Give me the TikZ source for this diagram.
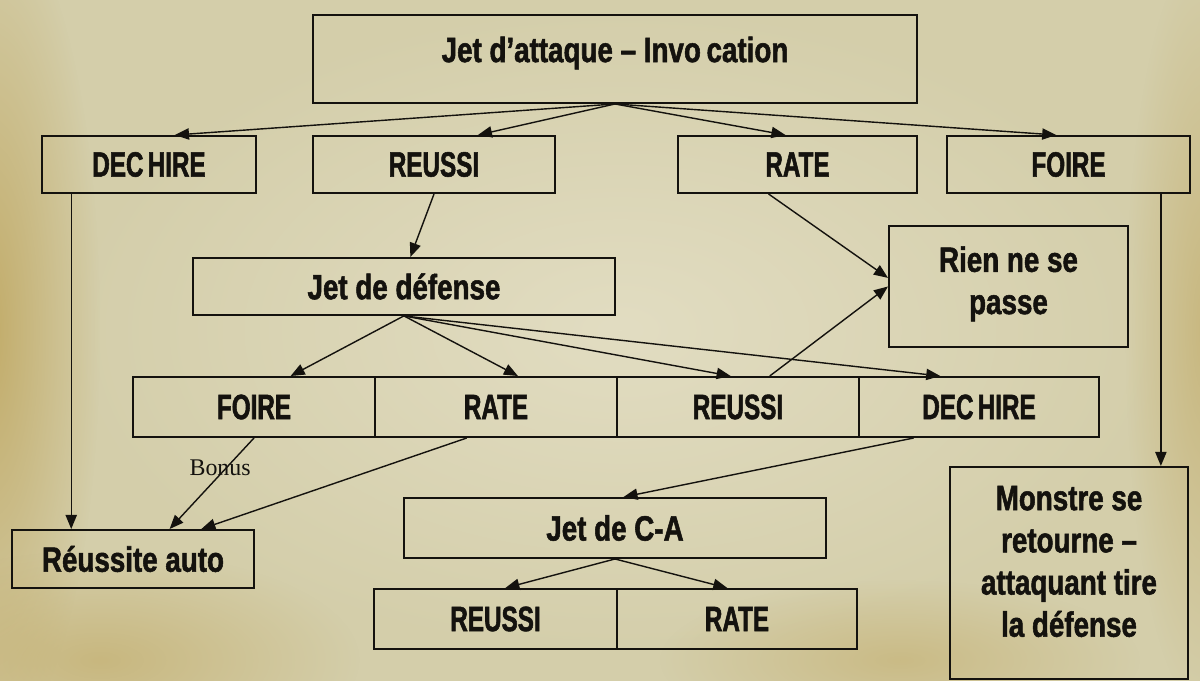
\documentclass[tikz,border=0pt]{standalone}
\usepackage{fontspec}
\newfontfamily\capsfont[FakeStretch=0.69, BoldFeatures={FakeBold=1.5}]{Liberation Sans}
\newfontfamily\wordfont[FakeStretch=0.79, BoldFeatures={FakeBold=1.5}]{Liberation Sans}
\newfontfamily\notefont{Liberation Serif}
\usetikzlibrary{arrows.meta,calc,fadings}

\definecolor{paper}{RGB}{212,206,170}
\definecolor{paperlight}{RGB}{226,221,194}
\definecolor{ochre}{RGB}{192,168,98}
\definecolor{ink}{RGB}{20,18,14}

\tikzfading[name=softblob, inner color=transparent!0, outer color=transparent!100]

% lift a label inside its box without changing the box size
\newcommand\liftlabel[2]{\raisebox{#1}[\height][\depth]{#2}}

\tikzset{
  box/.style={draw=ink, line width=1.4pt, inner sep=0pt, text=ink, align=center,
    font=\capsfont\bfseries\fontsize{25}{30}\selectfont},
  wordbox/.style={box, font=\wordfont\bfseries\fontsize{25}{30}\selectfont},
  conn/.style={draw=ink, line width=1pt, -{Triangle[length=10pt,width=8pt]}},
  note/.style={text=ink, inner sep=0pt, font=\notefont\fontsize{17}{18}\selectfont}
}

\begin{document}
\begin{tikzpicture}[x=0.025cm, y=-0.025cm]
  \useasboundingbox (0,0) rectangle (1200,681);
  % parchment
  \begin{scope}
    \clip (0,0) rectangle (1200,681);
    \fill[paper] (0,0) rectangle (1200,681);
    \fill[paperlight, path fading=softblob] (620,330) ellipse (560 and 330);
    \fill[ochre, path fading=softblob, opacity=0.9] (-10,330) ellipse (110 and 420);
    \fill[ochre, path fading=softblob, opacity=0.6] (1205,330) ellipse (80 and 380);
    \fill[ochre, path fading=softblob, opacity=0.6] (100,660) ellipse (260 and 110);
    \fill[ochre, path fading=softblob, opacity=0.5] (900,660) ellipse (240 and 80);
  \end{scope}

  % first roll
  \node[wordbox, minimum width=15.1cm, minimum height=2.2cm] (top) at (615,59)
    {\liftlabel{0.15cm}{Jet d’attaque – Invo\kern4pt cation}};
  \node[box, minimum width=5.35cm, minimum height=1.425cm] (dech1) at (149,164.5) {DEC\kern3pt HIRE};
  \node[box, minimum width=6.05cm, minimum height=1.425cm] (reus1) at (434,164.5) {REUSSI};
  \node[box, minimum width=5.975cm, minimum height=1.425cm] (rate1) at (797.5,164.5) {RATE};
  \node[box, minimum width=6.075cm, minimum height=1.425cm] (foir1) at (1068.5,164.5) {FOIRE};

  % outcomes
  \node[wordbox, minimum width=5.975cm, minimum height=3.025cm] (rien) at (1008.5,286.5)
    {\liftlabel{0.05cm}{\begin{tabular}{@{}c@{}}Rien ne se\\passe\end{tabular}}};
  \node[wordbox, minimum width=5.95cm, minimum height=5.3cm] (monstre) at (1069,573)
    {\liftlabel{0.2cm}{\begin{tabular}{@{}c@{}}Monstre se\\retourne –\\attaquant tire\\la défense\end{tabular}}};

  % defence roll
  \node[wordbox, minimum width=10.55cm, minimum height=1.425cm] (def) at (404,286.5) {Jet de défense};
  \node[box, minimum width=6.05cm, minimum height=1.5cm] (foir2) at (254,407) {FOIRE};
  \node[box, minimum width=6.05cm, minimum height=1.5cm] (rate2) at (496,407) {RATE};
  \node[box, minimum width=6.05cm, minimum height=1.5cm] (reus2) at (738,407) {REUSSI};
  \node[box, minimum width=6.0cm, minimum height=1.5cm] (dech2) at (979,407) {DEC\kern3pt HIRE};

  \node[wordbox, minimum width=6.05cm, minimum height=1.45cm] (auto) at (133,559) {Réussite auto};

  % counter-attack roll
  \node[wordbox, minimum width=10.55cm, minimum height=1.5cm] (ca) at (615,528) {Jet de C-A};
  \node[box, minimum width=6.075cm, minimum height=1.5cm] (reus3) at (495.5,619) {REUSSI};
  \node[box, minimum width=6.0cm, minimum height=1.5cm] (rate3) at (737,619) {RATE};

  % connectors from the attack roll
  \draw[conn] ($(top.south)+(-0.2,0)$) -- ($(dech1.north west)!0.62!(dech1.north east)$);
  \draw[conn] ($(top.south)+(-0.1,0)$) -- ($(reus1.north west)!0.68!(reus1.north east)$);
  \draw[conn] ($(top.south)+(0.1,0)$) -- ($(rate1.north west)!0.45!(rate1.north east)$);
  \draw[conn] ($(top.south)+(0.2,0)$) -- ($(foir1.north west)!0.45!(foir1.north east)$);

  \draw[conn] (reus1.south) -- ($(def.north west)!0.515!(def.north east)$);
  \draw[conn] ($(rate1.south west)!0.38!(rate1.south east)$) -- ($(rien.north west)!0.43!(rien.south west)$);
  \draw[conn] ($(dech1.south west)!0.14!(dech1.south east)$) coordinate (d1)
    -- (d1 |- auto.north);
  \draw[conn] ($(foir1.south west)!0.877!(foir1.south east)$) coordinate (f1)
    -- (f1 |- monstre.north);

  % connectors from the defence roll
  \draw[conn] ($(def.south)+(-0.3,0)$) -- ($(foir2.north west)!0.65!(foir2.north east)$);
  \draw[conn] ($(def.south)+(0.1,0)$) -- ($(rate2.north west)!0.59!(rate2.north east)$);
  \draw[conn] ($(def.south)+(0.2,0)$) -- ($(reus2.north west)!0.47!(reus2.north east)$);
  \draw[conn] ($(def.south)+(0.3,0)$) -- ($(dech2.north west)!0.34!(dech2.north east)$);

  \draw[conn] ($(reus2.north west)!0.63!(reus2.north east)$) -- ($(rien.north west)!0.5!(rien.south west)$);
  \draw[conn] (foir2.south) -- node[note, pos=0.33, xshift=-0.15cm] (bonus) {Bonus}
    ($(auto.north west)!0.65!(auto.north east)$);
  \draw[conn] ($(rate2.south west)!0.38!(rate2.south east)$) -- ($(auto.north west)!0.78!(auto.north east)$);
  \draw[conn] ($(dech2.south west)!0.23!(dech2.south east)$) -- ($(ca.north west)!0.52!(ca.north east)$);

  % connectors from the counter-attack roll
  \draw[conn] ($(ca.south)+(-0.1,0)$) -- ($(reus3.north west)!0.54!(reus3.north east)$);
  \draw[conn] ($(ca.south)+(0.1,0)$) -- ($(rate3.north west)!0.46!(rate3.north east)$);
\end{tikzpicture}
\end{document}
